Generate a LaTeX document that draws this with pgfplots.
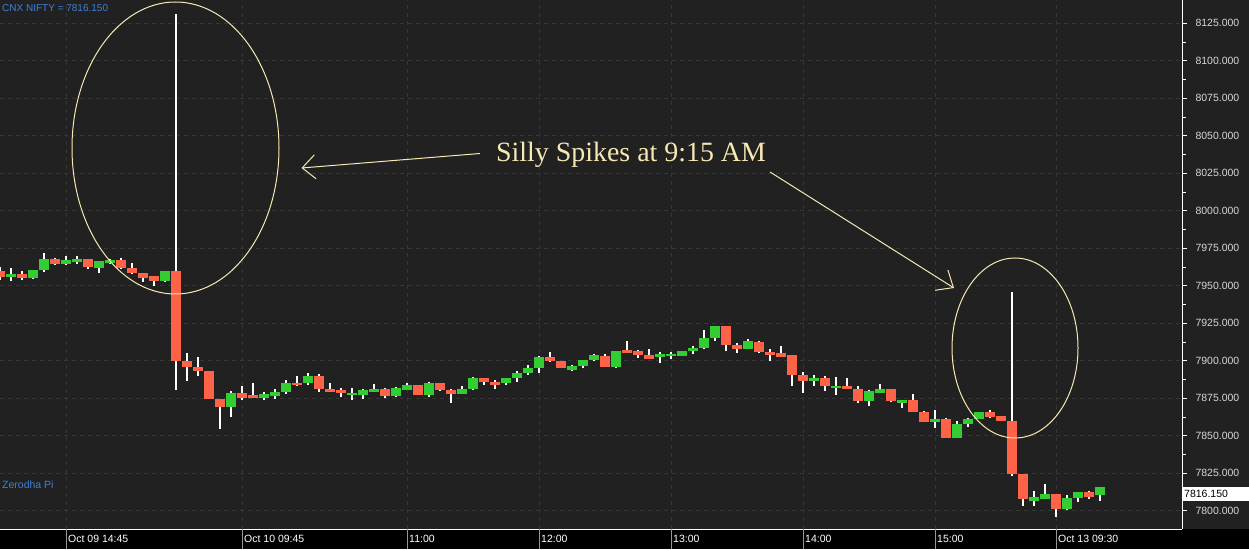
\documentclass[border=0pt]{standalone}
\usepackage{fontspec}
\setmainfont{Liberation Sans}
\newfontfamily\serifann{Liberation Serif}
\usepackage{pgfplots}
\usepackage{pgfplotstable}
\pgfplotsset{compat=1.18}
\usetikzlibrary{arrows.meta}

\definecolor{bgc}{RGB}{33,33,33}
\definecolor{gridc}{RGB}{54,54,54}
\definecolor{upc}{RGB}{50,205,50}
\definecolor{dnc}{RGB}{255,99,71}
\definecolor{annc}{RGB}{245,232,178}
\definecolor{bluec}{RGB}{64,128,214}
\definecolor{labc}{RGB}{215,215,215}
\definecolor{sepc}{RGB}{150,150,150}

% 5-minute candles, CNX NIFTY; i = candle index (0 = Oct 09 14:45)
\pgfplotstableread{
i   o        h        l        c
-5  7955.9   7961.9   7953.2   7957.9
-3  7955.2   7960.5   7954.8   7960.5
-2  7960.5   7971.9   7959.2   7967.9
0   7964.5   7969.9   7963.9   7967.2
1   7965.9   7969.9   7964.5   7967.9
3   7961.9   7966.5   7958.5   7966.5
4   7965.2   7967.9   7964.5   7967.2
9   7953.2   7959.9   7952.5   7959.9
15  7869.2   7879.9   7862.5   7878.5
18  7875.2   7879.2   7873.9   7877.9
19  7876.5   7881.2   7874.5   7879.2
20  7879.2   7887.2   7877.9   7885.2
22  7885.2   7891.9   7883.9   7889.9
26  7877.2   7881.9   7873.9   7878.5
27  7877.2   7881.2   7874.5   7880.5
28  7879.2   7884.5   7879.2   7881.2
30  7876.5   7882.5   7875.9   7881.9
31  7880.5   7885.2   7880.5   7883.9
33  7877.2   7885.9   7875.9   7885.2
36  7877.9   7883.2   7877.9   7881.2
37  7881.2   7889.2   7880.5   7888.5
40  7885.2   7888.5   7883.9   7888.5
41  7888.5   7893.2   7885.9   7891.9
42  7891.9   7897.2   7890.5   7895.2
43  7895.2   7903.2   7891.9   7902.5
46  7893.9   7897.2   7893.2   7896.5
47  7896.5   7900.5   7895.2   7900.5
48  7900.5   7904.5   7899.9   7903.9
50  7895.9   7906.5   7895.2   7906.5
54  7902.5   7905.9   7898.5   7904.5
55  7903.2   7905.9   7901.2   7904.5
56  7903.2   7906.5   7903.2   7906.5
57  7906.5   7909.9   7904.5   7908.5
58  7908.5   7920.5   7907.9   7915.2
59  7915.2   7923.2   7913.2   7923.2
62  7907.9   7914.5   7907.9   7913.2
68  7886.5   7890.5   7883.2   7888.5
70  7881.9   7889.2   7877.2   7883.2
73  7873.2   7880.5   7869.9   7879.9
74  7878.5   7884.5   7878.5   7881.2
76  7871.9   7873.9   7868.5   7873.9
79  7859.2   7867.2   7855.2   7861.2
81  7848.5   7859.9   7848.5   7857.9
82  7857.9   7861.9   7855.9   7861.2
83  7861.2   7865.9   7861.2   7865.9
88  7806.5   7813.2   7803.2   7809.2
89  7807.9   7817.9   7807.9   7811.2
91  7801.2   7810.5   7800.5   7808.5
92  7808.5   7812.5   7805.9   7812.5
94  7810.5   7816.15  7806.5   7816.15
}\upcandles

\pgfplotstableread{
i   o        h        l        c
-6  7959.9   7962.5   7953.9   7955.9
-4  7957.9   7959.9   7953.9   7955.2
-1  7967.9   7968.5   7963.9   7964.5
2   7967.9   7967.9   7961.2   7962.5
5   7967.2   7968.5   7961.2   7961.9
6   7961.9   7965.2   7957.9   7958.5
7   7958.5   7958.5   7952.5   7955.2
8   7956.5   7956.5   7949.9   7953.2
10  7959.9   8131.2   7880.5   7899.9
11  7899.9   7905.2   7886.5   7895.9
12  7895.9   7902.5   7889.9   7893.2
13  7893.2   7893.2   7874.5   7874.5
14  7874.5   7874.5   7854.5   7869.2
16  7878.5   7883.2   7873.9   7875.2
17  7877.2   7885.2   7875.2   7875.2
21  7885.2   7889.9   7883.2   7883.9
23  7889.9   7891.2   7879.2   7881.2
24  7881.2   7885.2   7879.2   7879.2
25  7880.5   7881.9   7875.9   7878.5
29  7881.2   7881.9   7875.2   7876.5
32  7883.9   7883.9   7877.2   7877.2
34  7885.2   7885.2   7879.9   7880.5
35  7880.5   7881.2   7871.9   7877.9
38  7888.5   7888.5   7883.9   7885.9
39  7885.9   7887.2   7881.2   7883.9
44  7902.5   7905.9   7899.2   7899.9
45  7899.9   7899.9   7895.2   7895.2
49  7903.2   7904.5   7895.9   7895.9
51  7907.2   7913.2   7905.2   7905.2
52  7906.5   7907.2   7901.9   7903.9
53  7903.9   7907.9   7901.2   7901.2
60  7923.2   7923.2   7906.5   7910.5
61  7910.5   7911.9   7905.2   7907.9
63  7912.5   7913.2   7905.2   7905.9
64  7905.9   7907.9   7899.9   7903.9
65  7905.2   7909.9   7902.5   7902.5
66  7903.9   7903.9   7883.2   7890.5
67  7890.5   7892.5   7878.5   7886.5
69  7888.5   7889.9   7879.9   7883.2
71  7883.2   7888.5   7881.2   7881.2
72  7881.2   7883.2   7871.9   7873.2
75  7881.2   7881.2   7872.5   7873.2
77  7873.9   7877.9   7865.9   7865.9
78  7865.9   7866.5   7859.2   7859.2
80  7861.2   7862.0   7848.5   7848.5
84  7865.9   7867.2   7861.9   7862.5
85  7863.2   7863.2   7859.9   7859.9
86  7859.9   7945.9   7823.2   7824.5
87  7824.5   7824.5   7803.2   7807.9
90  7811.2   7811.2   7795.9   7801.2
93  7812.5   7813.2   7807.9   7809.2
}\downcandles

\pgfplotsset{
  wick/.style={draw=none, mark=none,
    error bars/.cd, y dir=both, y explicit, error mark=none,
    error bar style={draw=white, line width=1.2pt}},
  body/.style={draw=none, mark=none,
    error bars/.cd, y dir=both, y explicit, error mark=none,
    error bar style={draw=#1, line width=10pt}},
}

\begin{document}
\begin{tikzpicture}
\useasboundingbox (0,-20pt) rectangle (1249pt,529pt);
\fill[bgc] (0,-20pt) rectangle (1249pt,529pt);
\fill[black] (0,-20pt) rectangle (1249pt,0pt);

\begin{axis}[
  width=1182pt, height=529pt, scale only axis,
  xmin=-6, xmax=101.45, ymin=7787.9, ymax=8140.5,
  axis x line=bottom, axis y line=right,
  axis line style={-, white, line width=1pt},
  xtick={0,16,31,43,55,67,79,90},
  xticklabels={},
  xtick style={draw=none},
  ytick={7800,7825,...,8125},
  minor y tick num=1,
  tick align=outside,
  major tick length=5pt, minor tick length=3.5pt,
  ytick style={white, line width=1pt},
  yticklabel style={anchor=west, text=labc, xshift=5pt,
    font=\fontsize{10.5}{12}\selectfont,
    /pgf/number format/.cd, fixed, fixed zerofill, precision=3,
    1000 sep={}, assume math mode=true},
  xmajorgrids, ymajorgrids,
  major grid style={gridc, line width=1pt, dash pattern=on 4pt off 4pt},
]
\addplot[wick] table[x=i, y expr=(\thisrow{h}+\thisrow{l})/2,
  y error expr=(\thisrow{h}-\thisrow{l})/2] {\upcandles};
\addplot[wick] table[x=i, y expr=(\thisrow{h}+\thisrow{l})/2,
  y error expr=(\thisrow{h}-\thisrow{l})/2] {\downcandles};
\addplot[body=upc] table[x=i, y expr=(\thisrow{o}+\thisrow{c})/2,
  y error expr=abs(\thisrow{c}-\thisrow{o})/2] {\upcandles};
\addplot[body=dnc] table[x=i, y expr=(\thisrow{o}+\thisrow{c})/2,
  y error expr=abs(\thisrow{c}-\thisrow{o})/2] {\downcandles};
\end{axis}

% time scale below the chart
\foreach \xx/\lab in {66/Oct 09 14:45, 242/Oct 10 09:45, 407/11:00, 539/12:00,
                      671/13:00, 803/14:00, 935/15:00, 1056/Oct 13 09:30} {
  \draw[sepc, line width=0.8pt] (\xx pt,-20pt) -- (\xx pt,0pt);
  \node[anchor=west, inner sep=0pt, text=white,
        font=\fontsize{10.5}{12}\selectfont] at (\xx pt+2pt,-10pt) {\lab};
}

% last value marker
\fill[white] (1183pt,28pt) rectangle (1249pt,42pt);
\node[anchor=west, inner sep=0pt, text=black,
      font=\fontsize{10.5}{12}\selectfont] at (1184pt,35pt) {7816.150};

\node[anchor=west, inner sep=0pt, text=bluec,
      font=\fontsize{10}{12}\selectfont] at (2pt,521pt) {CNX NIFTY = 7816.150};
\node[anchor=west, inner sep=0pt, text=bluec,
      font=\fontsize{10.5}{12}\selectfont] at (2pt,44pt) {Zerodha Pi};

% annotations
\draw[annc, line width=1pt] (175.5pt,381pt) ellipse (103.5pt and 146pt);
\draw[annc, line width=1pt] (1015pt,181pt) ellipse (63pt and 90pt);
\node[anchor=base west, inner sep=0pt, text=annc,
      font=\serifann\fontsize{27.9}{30}\selectfont] at (496pt,367pt) {Silly Spikes at 9:15 AM};
\draw[annc, line width=1pt, -{Straight Barb[length=13pt, width=24pt]}]
  (480pt,375.5pt) -- (301.5pt,361pt);
\draw[annc, line width=1pt, -{Straight Barb[length=14pt, width=24pt]}]
  (770pt,357pt) -- (954pt,241pt);
\end{tikzpicture}
\end{document}
